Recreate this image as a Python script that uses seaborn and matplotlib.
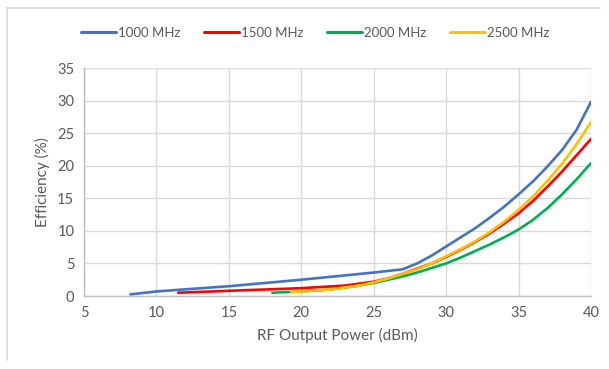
import matplotlib
matplotlib.use("Agg")
import matplotlib.pyplot as plt
import seaborn as sns
import pandas as pd
from matplotlib.lines import Line2D

sns.set_theme(style="white")
plt.rcParams['font.family'] = ['Lato', 'DejaVu Sans']

series_names = ["1000 MHz", "1500 MHz", "2000 MHz", "2500 MHz"]
colors = ["#4472C4", "#FF0000", "#00B050", "#FFC000"]

power_1000 = [8.2, 10, 15, 20, 25, 27, 28, 29, 30, 31, 32, 33, 34, 35, 36, 37, 38, 39, 40]
eff_1000 = [0.25, 0.7, 1.5, 2.5, 3.6, 4.1, 5.0, 6.2, 7.6, 9.0, 10.4, 12.0, 13.7, 15.6,
            17.6, 19.9, 22.4, 25.5, 29.8]

power_1500 = [11.5, 15, 20, 23, 24, 25, 26, 27, 28, 29, 30, 31, 32, 33, 34, 35, 36, 37,
              38, 39, 40]
eff_1500 = [0.5, 0.8, 1.2, 1.6, 1.9, 2.2, 2.7, 3.4, 4.2, 5.0, 6.0, 7.1, 8.3, 9.6, 11.1,
            12.7, 14.6, 16.8, 19.1, 21.6, 24.1]

power_2000 = [18.0, 20, 22, 24, 25, 26, 27, 28, 29, 30, 31, 32, 33, 34, 35, 36, 37, 38,
              39, 40]
eff_2000 = [0.5, 0.7, 1.0, 1.6, 2.0, 2.5, 3.0, 3.6, 4.3, 5.0, 5.9, 6.9, 7.9, 9.0, 10.2,
            11.7, 13.5, 15.6, 17.9, 20.4]

power_2500 = [19.3, 22, 24, 25, 26, 27, 28, 29, 30, 31, 32, 33, 34, 35, 36, 37, 38, 39, 40]
eff_2500 = [0.6, 1.0, 1.6, 2.1, 2.7, 3.4, 4.1, 5.0, 6.1, 7.2, 8.4, 9.8, 11.4, 13.2, 15.3,
            17.7, 20.3, 23.3, 26.7]

x_ticks = [5, 10, 15, 20, 25, 30, 35, 40]
y_ticks = [0, 5, 10, 15, 20, 25, 30, 35]

frames = []
for name, xs, ys in zip(series_names,
                        [power_1000, power_1500, power_2000, power_2500],
                        [eff_1000, eff_1500, eff_2000, eff_2500]):
    frames.append(pd.DataFrame({"power": xs, "eff": ys, "freq": name}))
df = pd.concat(frames, ignore_index=True)

fig = plt.figure(figsize=(6.09, 3.69), dpi=100)
ax = fig.add_axes([84/609, 1-296/369, (591-84)/609, (296-68)/369])

sns.lineplot(data=df, x="power", y="eff", hue="freq", hue_order=series_names,
             palette=colors, sort=False, estimator=None, linewidth=1.9,
             legend=False, ax=ax)

text_color = "#595959"
grid_color = "#D9D9D9"
ax.set_xlim(5, 40)
ax.set_ylim(0, 35)
ax.set_xticks(x_ticks)
ax.set_yticks(y_ticks)
ax.grid(True, color=grid_color, linewidth=1.0)
ax.set_axisbelow(True)
for s in ["top", "right"]:
    ax.spines[s].set_visible(False)
for s in ["left", "bottom"]:
    ax.spines[s].set_color("#BFBFBF")
    ax.spines[s].set_linewidth(1.0)
ax.tick_params(axis="both", length=0, labelsize=10.5, colors=text_color, pad=7)
ax.set_xlabel("RF Output Power (dBm)", fontsize=11, color=text_color, labelpad=6)
ax.set_ylabel("Efficiency (%)", fontsize=11, color=text_color, labelpad=5)

handles = [Line2D([0], [0], color=c, linewidth=2.2) for c in colors]
fig.legend(handles, series_names, loc="center", bbox_to_anchor=(0.518, 1-33/369),
           ncol=4, frameon=False, fontsize=9.5, handlelength=2.6,
           handletextpad=0.2, columnspacing=1.8, labelcolor=text_color)

# outer chart border (top and left)
fig.add_artist(Line2D([7/609, 600/609], [1-8/369, 1-8/369], color="#D9D9D9", linewidth=1.2))
fig.add_artist(Line2D([7/609, 7/609], [1-8/369, 1-360/369], color="#D9D9D9", linewidth=1.2))

fig.savefig("out.png", dpi=100)
